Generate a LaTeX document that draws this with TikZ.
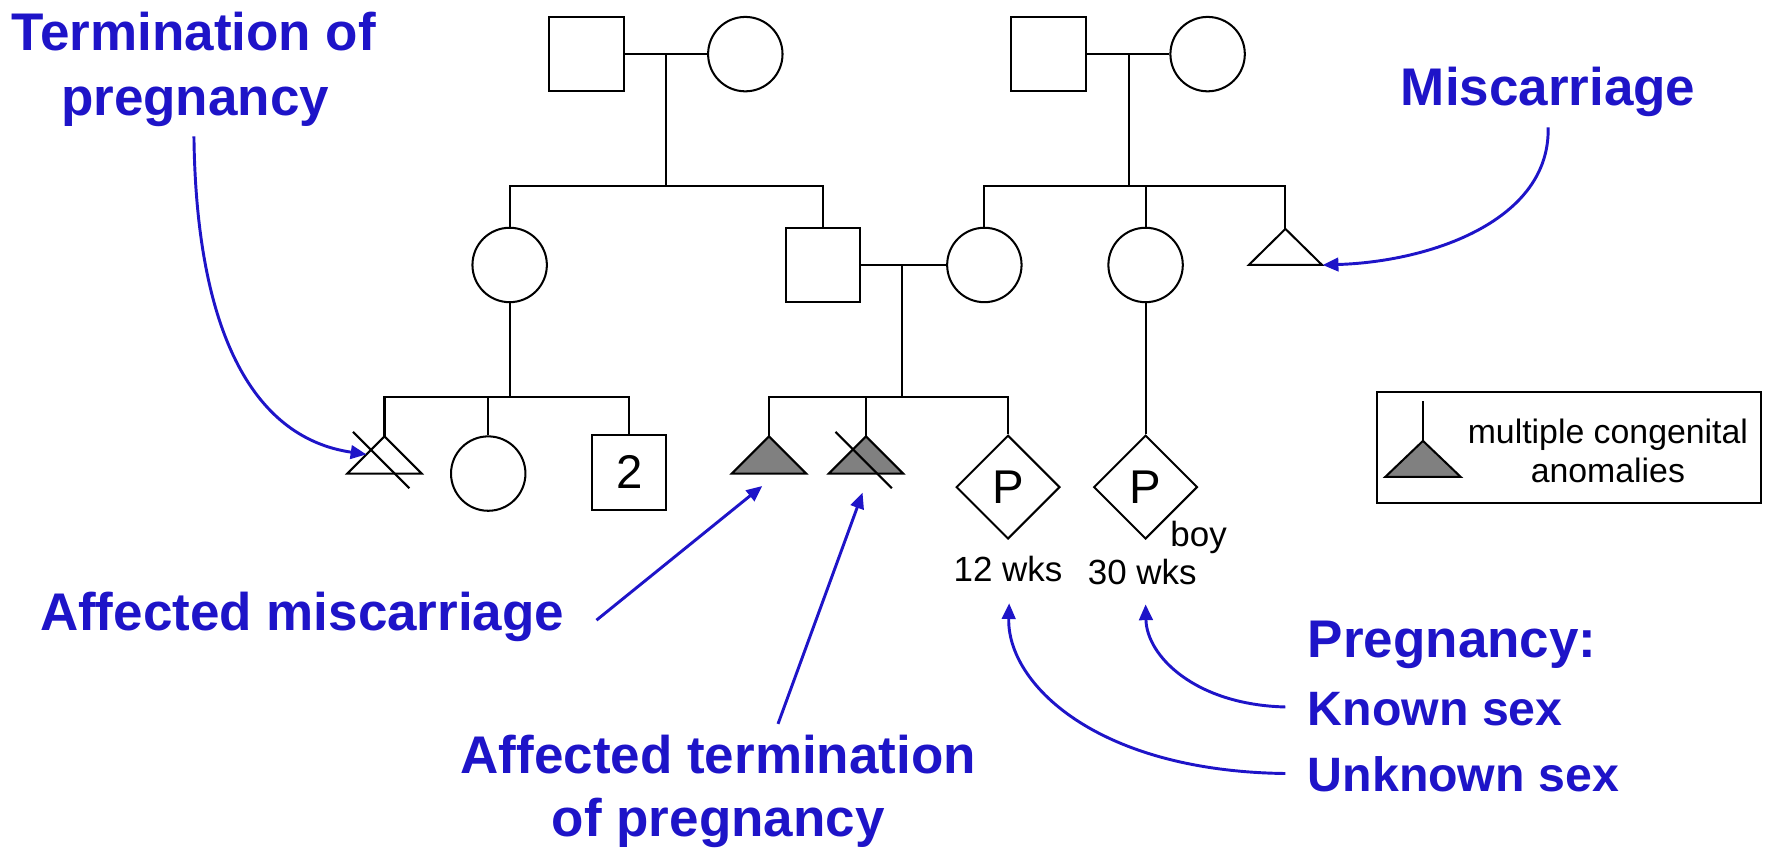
\documentclass[tikz,border=0pt]{standalone}
\usepackage{fontspec}
\setmainfont{Liberation Sans}
\usetikzlibrary{shapes.geometric,arrows.meta}
\definecolor{lblue}{RGB}{30,20,200}
\definecolor{afill}{RGB}{128,128,128}
\begin{document}
\begin{tikzpicture}[x=0.5pt,y=-0.5pt,
  line width=0.9pt,
  male/.style={draw,rectangle,minimum size=33pt,inner sep=0pt,font=\fontsize{21}{24}\selectfont},
  female/.style={draw,circle,minimum size=33pt,inner sep=0pt},
  preg/.style={draw,diamond,minimum size=46pt,inner sep=0pt,font=\fontsize{21}{24}\selectfont},
  bluelab/.style={text=lblue,font=\bfseries\fontsize{23.5}{28.5}\selectfont,inner sep=0pt},
  bluesmall/.style={text=lblue,font=\bfseries\fontsize{21.4}{26}\selectfont,inner sep=0pt},
  small/.style={font=\fontsize{15.5}{18}\selectfont,inner sep=0pt},
  legtext/.style={font=\fontsize{15}{18}\selectfont,inner sep=0pt},
  callout/.style={draw=lblue,line width=1.3pt,-{Triangle[length=7pt,width=6pt]}},
  affected/.style={draw,fill=afill},
  ]
\useasboundingbox (0,0) rectangle (1568,755);

% Generation I
\node[male] (A) at (520,48) {};
\node[female] (B) at (661,48) {};
\node[male] (C) at (930,48) {};
\node[female] (D) at (1071,48) {};
\draw (A) -- (B);
\draw (C) -- (D);
\coordinate (m1) at (591,48);
\coordinate (s1) at (591,165);
\coordinate (m2) at (1001,48);
\coordinate (s2) at (1001,165);
\draw (m1) -- (s1);
\draw (m2) -- (s2);

% Generation II
\node[female] (E) at (452,235) {};
\node[male] (F) at (730,235) {};
\node[female] (G) at (873,235) {};
\node[female] (H) at (1016,235) {};
\draw (1140,203) coordinate (I) -- ++(32.5,32) -- ++(-65,0) -- cycle;
\draw (E.north) -- (E.north |- s1) -- (F.north |- s1) -- (F.north);
\draw (G.north) -- (G.north |- s2) -- (I |- s2) -- (I);
\draw (H.north) -- (H.north |- s2);
\draw (F) -- (G);
\coordinate (m3) at (800,235);
\coordinate (s3) at (800,352);
\draw (m3) -- (s3);
\coordinate (s4) at (452,352);
\draw (E.south) -- (s4);

% Generation III
\draw (341,387) coordinate (T1) -- ++(33,33) -- ++(-66,0) -- cycle;
\draw (T1) ++(-28,-4) -- ++(50,50);
\node[female] (J) at (433,420) {};
\node[male] (K) at (558,419) {2};
\draw[affected] (682,387) coordinate (T2) -- ++(33,33) -- ++(-66,0) -- cycle;
\draw[affected] (768,387) coordinate (T3) -- ++(33,33) -- ++(-66,0) -- cycle;
\draw (T3) ++(-27,-4) -- ++(50,50);
\node[preg] (P1) at (894,432) {P};
\node[preg] (P2) at (1016,432) {P};
\draw (T1) -- (T1 |- s4) -- (K.north |- s4) -- (K.north);
\draw (J.north) -- (J.north |- s4);
\draw (T2) -- (T2 |- s3) -- (P1.north |- s3) -- (P1.north);
\draw (T3) -- (T3 |- s3);
\draw (H.south) -- (P2.north);

\node[small,anchor=base] (boy) at (1063,485) {boy};
\node[small,anchor=base] (w12) at (894,516) {12 wks};
\node[small,anchor=base] (w30) at (1013,518) {30 wks};

% Legend
\node[draw,minimum width=170.5pt,minimum height=49pt,inner sep=0pt] (leg) at (1391.5,397) {};
\draw[affected] (1262,391) coordinate (LT) -- ++(33.5,32) -- ++(-67,0) -- cycle;
\coordinate (LS) at (1262,356);
\draw (LS) -- (LT);
\node[legtext,anchor=base] (leg1) at (1426,393) {multiple congenital};
\node[legtext,anchor=base] (leg2) at (1426,427.5) {anomalies};

% Blue labels
\node[bluelab,anchor=base] (lt1) at (172,45) {Termination of};
\node[bluelab,anchor=base] (lt2) at (173,102) {pregnancy};
\node[bluelab,anchor=base] (lm) at (1373,94) {Miscarriage};
\node[bluelab,anchor=base] (lam) at (268,559) {Affected miscarriage};
\node[bluelab,anchor=base] (lat1) at (637,686) {Affected termination};
\node[bluelab,anchor=base] (lat2) at (637,742) {of pregnancy};
\node[bluelab,anchor=base west] (lp) at (1159,583) {Pregnancy:};
\node[bluesmall,anchor=base west] (lk) at (1159,643) {Known sex};
\node[bluesmall,anchor=base west] (lu) at (1159,702) {Unknown sex};

% Callout arrows
\coordinate (a1s) at (172,121);
\coordinate (a1e) at (325,403);
\draw[callout] (a1s) .. controls (174,290) and (222,388) .. (a1e);
\coordinate (a2s) at (1373,113);
\coordinate (a2e) at (1173,235);
\draw[callout] (a2s) .. controls (1375,195) and (1270,232) .. (a2e);
\coordinate (a3s) at (529,550);
\coordinate (a3e) at (676,431);
\draw[callout] (a3s) -- (a3e);
\coordinate (a4s) at (690,642);
\coordinate (a4e) at (765,437);
\draw[callout] (a4s) -- (a4e);
\coordinate (a5s) at (1140,627);
\coordinate (a5e) at (1016,536);
\draw[callout] (a5s) .. controls (1060,625) and (1017,582) .. (a5e);
\coordinate (a6s) at (1140,686);
\coordinate (a6e) at (895,535);
\draw[callout] (a6s) .. controls (972,684) and (893,606) .. (a6e);
\end{tikzpicture}
\end{document}
